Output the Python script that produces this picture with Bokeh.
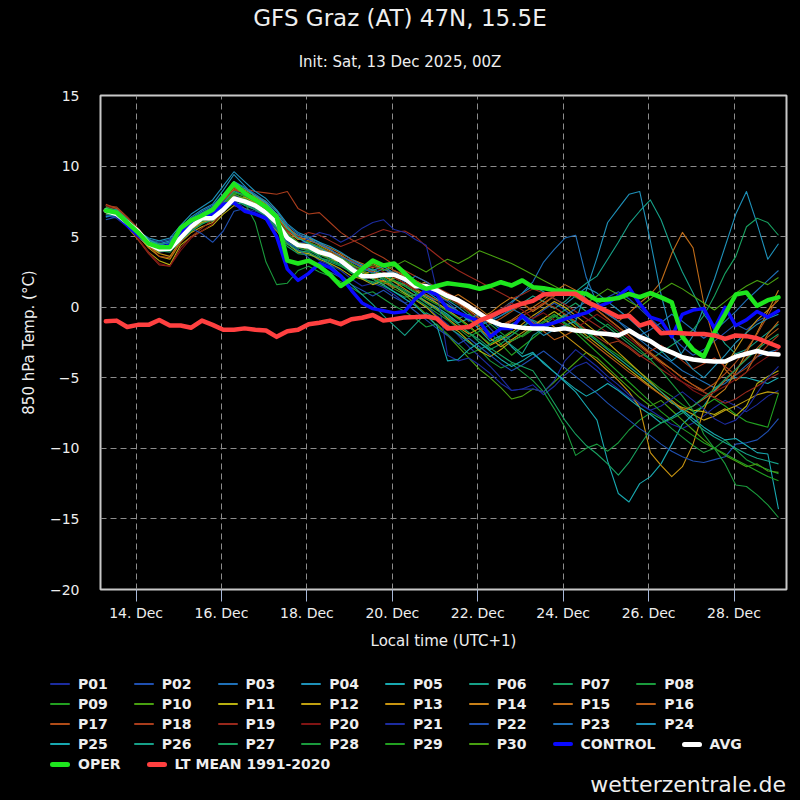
from datetime import datetime, timedelta

from bokeh.embed import file_html
from bokeh.layouts import column
from bokeh.models import ColumnDataSource, DatetimeTickFormatter, Div, FixedTicker, Range1d
from bokeh.plotting import figure
from bokeh.resources import INLINE

# ---------------------------------------------------------------------------
# GFS ensemble, 850 hPa temperature (°C) for Graz, 6-hourly steps (+6 h .. +384 h),
# shown in local time (UTC+1)
# ---------------------------------------------------------------------------
FIRST_STEP = datetime(2025, 12, 13, 7, 0)
STEP_HOURS = 6
N_STEPS = 64
times = [FIRST_STEP + timedelta(hours=STEP_HOURS * i) for i in range(N_STEPS)]

P01 = [6.5, 6.4, 5.8, 5.0, 4.3, 3.9, 4.0, 4.9, 5.6, 6.0, 6.3, 7.0, 7.6, 7.0, 6.8, 6.5,
       5.6, 4.5, 4.0, 3.9, 3.3, 3.0, 2.6, 2.0, 1.5, 1.7, 1.4, 0.9, 0.3, 0.6, 0.1, -0.6,
       -1.2, -2.0, -2.8, -3.5, -4.2, -5.0, -5.9, -5.8, -5.5, -6.2, -5.6, -4.8, -4.2, -3.9, -4.5, -5.2,
       -5.8, -6.4, -6.9, -7.3, -7.8, -8.3, -8.6, -8.2, -7.7, -7.1, -6.6, -7.0, -7.4, -6.9, -6.3, -5.9]
P02 = [6.9, 6.7, 6.0, 5.3, 4.6, 4.2, 4.4, 5.3, 6.0, 6.5, 6.9, 7.6, 8.3, 7.9, 7.3, 6.9,
       6.2, 5.3, 5.0, 4.8, 4.4, 4.1, 3.6, 3.3, 3.0, 2.6, 2.9, 2.4, 2.0, 1.6, 1.1, 0.8,
       0.4, -0.3, -1.0, -0.6, -1.5, -2.3, -2.0, -1.4, -0.8, -0.2, 0.3, -0.2, -0.8, -0.4, 0.2, 0.7,
       1.1, 0.6, -0.1, -0.8, -1.5, -2.1, -2.8, -3.4, -3.0, -2.4, -1.8, -1.2, -1.6, -1.0, -0.6, -0.3]
P03 = [6.4, 6.5, 5.9, 5.2, 4.7, 4.4, 4.6, 5.4, 6.2, 6.7, 7.1, 7.9, 8.8, 8.2, 7.6, 7.0,
       6.0, 4.8, 4.5, 4.6, 4.2, 3.9, 3.1, 2.7, 2.9, 2.5, 1.9, 1.5, 1.0, 0.6, 0.9, 0.3,
       -0.2, -0.8, -0.5, -1.2, -0.9, -0.4, 0.3, 1.0, 1.8, 3.2, 4.1, 4.9, 5.1, 2.1, 0.3, -0.4,
       -1.0, -1.7, -2.3, -2.9, -3.4, -3.9, -4.5, -4.9, -5.3, -5.7, -5.4, -4.8, -4.1, -3.5, -3.2, -3.0]
P04 = [6.7, 6.6, 5.9, 5.3, 4.8, 4.5, 4.7, 5.6, 6.4, 6.9, 7.3, 8.3, 9.4, 8.6, 7.8, 7.4,
       6.6, 5.6, 5.1, 4.9, 4.6, 4.1, 3.5, 3.0, 2.6, 2.7, 2.3, 2.6, 1.9, 1.3, 1.5, 0.9,
       0.5, 0.0, -0.6, -1.1, -0.7, -0.2, 0.4, 1.0, 1.5, 1.1, 0.6, 0.2, 0.8, 1.4, 1.0, 0.4,
       -0.2, -0.8, -1.5, -2.3, -3.1, -3.8, -3.2, -2.0, 0.0, 2.0, 4.3, 6.6, 8.2, 5.9, 3.4, 4.5]
P05 = [7.0, 6.8, 6.1, 5.4, 4.6, 4.1, 4.2, 5.1, 5.8, 6.3, 6.5, 7.2, 8.0, 7.7, 7.3, 6.8,
       6.1, 5.2, 4.6, 4.3, 4.0, 3.8, 3.2, 2.8, 2.4, 2.0, 2.3, 1.8, 1.5, 1.0, 0.4, 0.0,
       -0.5, -1.1, -0.8, -1.6, -2.4, -2.0, -2.8, -3.5, -3.2, -4.0, -4.6, -5.3, -6.0, -7.0, -8.0, -10.9,
       -13.2, -13.8, -12.5, -12.0, -11.1, -9.7, -8.3, -7.6, -7.0, -5.9, -5.2, -5.0, -5.0, -5.2, -5.4, -5.0]
P06 = [7.2, 7.0, 6.2, 5.4, 4.7, 4.3, 4.4, 5.2, 5.9, 6.1, 6.4, 7.0, 7.7, 7.2, 6.9, 6.6,
       5.7, 4.6, 4.2, 4.0, 3.8, 3.5, 3.0, 2.6, 2.5, 2.2, 2.4, 1.9, 1.6, 1.2, 0.8, 0.5,
       0.1, -0.4, -0.9, -1.3, -1.0, -0.6, -0.2, 0.3, 0.8, 0.4, -0.1, 0.4, 1.1, 1.7, 2.2, 3.4,
       4.6, 5.9, 6.8, 7.6, 6.2, 4.2, 2.5, 1.0, -0.5, -1.5, -2.6, -3.3, -3.0, -2.4, -1.8, -1.2]
P07 = [6.9, 6.8, 6.0, 5.4, 4.8, 4.5, 4.5, 5.3, 5.8, 6.0, 6.1, 6.8, 7.4, 7.3, 7.0, 6.4,
       5.5, 4.3, 3.8, 3.7, 3.5, 3.3, 3.0, 2.4, 2.0, 1.8, 1.5, 1.1, 0.7, 0.9, 0.4, -0.1,
       -0.6, -1.2, -1.8, -2.5, -3.0, -2.6, -2.0, -1.4, -0.9, -1.3, -0.7, -0.2, 0.3, -0.3, -0.9, -1.4,
       -2.0, -2.6, -3.2, -3.7, -3.2, -2.7, -2.2, -1.6, -0.6, 0.8, 2.4, 3.6, 5.7, 6.3, 6.0, 5.1]
P08 = [7.1, 6.9, 6.3, 5.5, 4.7, 4.2, 4.1, 4.9, 5.4, 5.9, 6.3, 7.1, 7.9, 7.4, 6.0, 3.2,
       1.6, 1.7, 2.6, 2.9, 2.5, 2.2, 1.8, 1.4, 0.9, 1.1, 0.6, 0.1, -0.3, -0.8, -1.4, -1.2,
       -1.9, -2.6, -3.3, -3.0, -3.8, -4.3, -4.0, -4.6, -5.2, -6.0, -7.2, -8.5, -10.5, -10.0, -9.7, -10.2,
       -9.6, -8.7, -8.0, -7.5, -7.9, -8.6, -9.2, -9.8, -10.3, -10.0, -9.4, -10.1, -10.8, -11.2, -11.5, -11.8]
P09 = [6.6, 6.7, 6.1, 5.3, 4.6, 4.0, 4.1, 4.8, 5.5, 6.0, 6.6, 7.4, 8.1, 8.0, 7.6, 7.1,
       6.3, 5.2, 4.4, 4.5, 4.0, 3.6, 3.4, 2.9, 2.5, 2.7, 2.3, 2.0, 2.4, 1.9, 1.5, 1.0,
       0.6, 0.2, -0.4, -1.1, -1.8, -2.6, -3.4, -2.8, -2.2, -1.6, -1.0, -0.5, -1.1, -1.7, -2.3, -2.9,
       -3.4, -4.0, -4.6, -5.2, -5.8, -6.3, -6.9, -7.4, -7.0, -6.5, -7.0, -7.6, -8.1, -8.3, -8.5, -6.1]
P10 = [6.8, 6.5, 5.8, 5.0, 4.3, 3.9, 4.2, 5.0, 5.7, 6.3, 6.6, 7.3, 8.2, 7.8, 7.5, 7.2,
       6.4, 5.5, 4.9, 4.6, 4.3, 3.9, 3.5, 3.1, 2.6, 2.2, 1.8, 1.3, 0.9, 0.2, -0.5, -1.3,
       -2.0, -2.8, -3.6, -4.4, -5.0, -5.7, -6.5, -6.3, -5.8, -6.0, -5.3, -4.6, -3.9, -3.2, -3.6, -4.3,
       -5.0, -5.7, -6.4, -7.0, -6.6, -7.3, -8.0, -8.7, -9.4, -10.0, -10.5, -10.9, -11.3, -11.1, -11.6, -11.7]
P11 = [6.9, 6.6, 5.7, 4.8, 3.9, 3.3, 3.0, 4.4, 5.0, 5.4, 5.8, 6.6, 7.2, 7.0, 6.6, 6.2,
       5.4, 4.5, 3.9, 3.8, 3.4, 3.1, 2.7, 2.2, 2.0, 1.6, 1.9, 1.5, 1.0, 0.5, 0.0, -0.7,
       -1.3, -1.7, -2.4, -3.1, -3.5, -3.0, -2.4, -2.0, -1.4, -0.8, -0.3, -0.8, -1.4, -2.0, -2.6, -3.2,
       -3.8, -4.4, -5.0, -5.6, -6.2, -6.8, -7.1, -7.3, -7.4, -7.6, -7.2, -7.7, -7.0, -5.4, -4.9, -4.5]
P12 = [7.0, 6.8, 6.0, 5.1, 4.2, 3.6, 3.4, 4.6, 5.3, 5.7, 6.0, 6.8, 7.6, 7.8, 7.4, 6.9,
       6.2, 5.0, 4.3, 4.1, 3.8, 3.4, 3.2, 2.8, 2.5, 2.0, 1.6, 2.1, 1.7, 1.2, 0.7, 0.3,
       -0.2, -0.7, -1.3, -2.0, -2.7, -2.3, -1.8, -1.2, -0.6, -0.1, 0.4, 0.0, -0.6, -1.2, -1.8, -2.5,
       -3.2, -3.9, -4.6, -5.3, -6.0, -6.6, -7.2, -7.6, -8.0, -7.7, -7.3, -7.0, -6.6, -6.2, -6.0, -6.1]
P13 = [6.8, 6.7, 5.9, 5.0, 4.3, 3.8, 3.6, 4.7, 5.5, 6.0, 6.2, 7.0, 7.9, 7.6, 7.2, 6.8,
       6.0, 4.9, 4.3, 4.4, 4.1, 3.8, 3.2, 2.7, 2.3, 2.6, 2.2, 1.8, 1.3, 0.8, 0.4, -0.1,
       -0.8, -1.4, -1.9, -1.5, -2.2, -2.8, -2.3, -1.8, -1.3, -0.8, -1.4, -2.0, -2.6, -3.2, -3.8, -4.5,
       -5.2, -6.0, -7.1, -10.3, -11.2, -12.0, -11.3, -9.7, -7.3, -5.6, -4.2, -3.0, -1.8, -0.9, -0.2, 0.5]
P14 = [6.6, 6.6, 5.9, 5.2, 4.5, 4.1, 4.0, 4.9, 5.6, 6.1, 6.5, 7.4, 8.4, 8.1, 7.8, 7.3,
       6.5, 5.4, 4.8, 4.9, 4.4, 4.0, 3.7, 3.2, 2.9, 3.1, 2.7, 2.4, 1.9, 1.5, 1.8, 1.3,
       0.8, 0.3, -0.2, -0.8, -0.4, 0.2, 0.7, 0.3, -0.3, 0.2, 0.8, 1.3, 0.9, 0.4, -0.2, -0.8,
       -1.4, -2.0, -2.7, -3.3, -3.9, -4.4, -5.0, -5.5, -6.0, -6.4, -5.8, -4.6, -3.2, -1.8, -0.3, 1.2]
P15 = [7.1, 6.9, 6.1, 5.3, 4.5, 4.0, 4.0, 5.0, 5.8, 6.4, 6.8, 7.6, 8.6, 8.3, 7.9, 7.5,
       6.8, 5.7, 5.0, 4.7, 4.5, 4.2, 3.8, 3.4, 3.1, 2.8, 3.0, 2.6, 2.2, 1.7, 1.2, 0.9,
       0.5, 0.9, 0.4, -0.1, -0.7, -1.3, -0.9, -0.4, 0.0, 0.5, 1.1, 1.6, 1.2, 0.6, 0.0, -0.5,
       -1.0, -0.4, 0.3, 0.9, 1.8, 3.8, 5.3, 4.2, 0.3, -2.5, -4.4, -5.2, -4.6, -3.2, -1.9, -1.0]
P16 = [7.2, 7.0, 6.2, 5.5, 4.8, 4.3, 4.2, 5.1, 5.9, 6.5, 6.9, 7.7, 8.5, 8.0, 7.6, 7.0,
       6.1, 5.0, 4.4, 4.2, 3.9, 3.6, 3.3, 2.9, 2.4, 2.1, 1.8, 1.4, 1.7, 1.3, 0.9, 0.5,
       0.1, -0.3, -0.8, -1.4, -1.9, -1.5, -1.0, -0.6, -1.1, -1.7, -2.3, -2.0, -1.6, -2.2, -2.8, -3.4,
       -4.0, -4.6, -5.1, -5.7, -6.2, -6.7, -7.3, -7.0, -6.5, -6.0, -5.2, -4.4, -3.6, -2.9, -2.1, -1.5]
P17 = [7.3, 7.0, 6.3, 5.4, 4.4, 3.6, 3.5, 4.6, 5.5, 6.2, 6.6, 7.5, 8.3, 8.1, 7.7, 7.2,
       6.4, 5.3, 4.6, 4.4, 4.2, 3.9, 3.6, 3.3, 2.8, 2.5, 2.2, 2.6, 2.3, 1.9, 1.5, 1.1,
       0.7, 0.3, -0.1, -0.6, -1.2, -0.8, -0.3, 0.2, -0.2, 0.3, 0.8, 1.2, 0.8, 0.3, -0.2, -0.8,
       -1.4, -2.0, -2.6, -3.2, -3.8, -4.4, -5.0, -5.5, -5.9, -5.4, -4.7, -3.9, -3.0, -1.9, -0.6, 0.8]
P18 = [7.2, 7.1, 6.4, 5.6, 4.7, 4.2, 4.4, 5.3, 6.0, 6.5, 6.8, 7.6, 8.3, 8.4, 8.2, 8.1,
       8.0, 8.2, 7.0, 6.6, 6.7, 6.0, 5.3, 4.8, 4.4, 3.9, 3.5, 3.0, 2.6, 2.2, 1.8, 1.4,
       1.0, 0.6, 0.2, -0.3, -0.8, -1.3, -1.0, -0.6, -0.2, 0.3, 0.0, -0.5, -1.0, -1.6, -2.1, -2.6,
       -2.4, -2.9, -3.5, -3.1, -2.7, -3.2, -3.8, -4.4, -4.0, -3.6, -4.2, -4.8, -4.3, -3.5, -2.7, -2.0]
P19 = [7.0, 6.7, 5.8, 4.8, 3.8, 3.0, 2.9, 4.2, 5.0, 5.6, 6.2, 7.0, 7.8, 7.6, 7.3, 6.9,
       6.2, 5.4, 5.0, 5.3, 5.1, 4.7, 4.3, 4.6, 4.9, 5.2, 5.5, 5.3, 5.4, 5.0, 4.3, 3.7,
       3.1, 2.6, 2.2, 1.8, 1.4, 1.0, 0.6, 0.9, 1.3, 1.0, 0.6, 0.2, -0.3, -0.8, -1.3, -1.8,
       -2.3, -2.8, -3.4, -3.9, -4.4, -4.9, -5.3, -5.7, -6.0, -6.4, -6.8, -6.5, -6.0, -5.6, -5.1, -4.7]
P20 = [7.2, 6.9, 5.9, 4.9, 3.9, 3.1, 2.9, 4.0, 4.9, 5.4, 5.9, 6.8, 7.7, 7.5, 7.1, 6.7,
       5.9, 5.0, 4.4, 4.3, 4.0, 3.7, 3.3, 2.9, 2.6, 2.9, 2.5, 2.1, 1.7, 1.2, 1.5, 1.1,
       0.7, 0.2, -0.3, -0.9, -0.5, -0.1, 0.3, -0.2, -0.8, -0.4, -0.9, -1.3, -1.5, -1.0, -0.5, -1.0,
       -1.6, -2.2, -2.8, -3.4, -4.0, -4.7, -5.3, -5.9, -6.3, -6.0, -5.6, -5.1, -4.6, -4.0, -3.5, -3.0]
P21 = [6.5, 6.3, 5.7, 5.1, 4.5, 4.2, 4.5, 5.3, 6.1, 6.6, 6.9, 7.5, 8.0, 7.4, 6.9, 6.4,
       5.6, 4.7, 4.4, 4.9, 5.3, 5.1, 4.6, 5.0, 5.6, 6.0, 6.2, 5.5, 5.3, 4.8, 4.4, 1.2,
       -3.4, -3.8, -3.6, -4.1, -4.7, -5.4, -5.9, -5.8, -5.8, -6.0, -5.2, -3.8, -3.0, -3.6, -4.2, -4.9,
       -5.5, -6.2, -6.8, -7.3, -7.0, -6.5, -6.0, -6.6, -7.2, -7.9, -8.3, -8.0, -7.2, -6.1, -5.0, -4.2]
P22 = [6.2, 6.4, 5.9, 5.3, 4.8, 4.6, 4.8, 5.5, 5.6, 5.2, 4.6, 5.4, 6.8, 7.0, 6.6, 6.2,
       5.5, 4.6, 4.1, 3.5, 2.9, 2.5, 2.1, 1.6, 1.2, 0.8, 1.2, 0.7, 0.3, -0.3, -0.9, -1.5,
       -2.0, -2.6, -2.2, -2.8, -3.4, -4.0, -4.5, -4.1, -3.6, -3.1, -3.7, -4.3, -4.9, -5.5, -6.1, -6.8,
       -7.4, -8.0, -8.6, -9.1, -9.7, -10.2, -10.6, -10.9, -11.0, -10.8, -10.6, -9.7, -9.6, -9.4, -8.8, -7.9]
P23 = [6.9, 6.8, 6.1, 5.4, 4.7, 4.4, 4.6, 5.5, 6.3, 6.8, 7.2, 8.0, 8.9, 8.5, 8.0, 7.5,
       6.8, 5.8, 5.2, 4.8, 4.5, 4.1, 3.6, 3.2, 2.8, 2.4, 2.7, 2.3, 1.8, 2.2, 1.8, 1.3,
       0.8, 0.4, 0.0, -0.5, -1.0, -0.6, -0.1, -0.5, -1.0, -1.5, -1.1, -0.6, -0.1, 0.4, 0.0, -0.5,
       -1.0, -1.5, -2.0, -1.6, -1.1, -0.5, -1.0, -1.6, -2.2, -1.7, -1.0, -0.3, 0.5, 1.2, 1.9, 2.6]
P24 = [6.4, 6.6, 6.0, 5.4, 4.9, 4.7, 4.9, 5.8, 6.6, 7.1, 7.6, 8.6, 9.6, 8.9, 8.2, 7.7,
       6.9, 5.9, 5.3, 5.0, 4.6, 4.3, 3.9, 3.4, 3.0, 2.6, 2.9, 2.4, 2.0, 1.5, 1.1, 0.6,
       0.2, -0.3, -0.9, -0.4, -1.0, -1.6, -1.2, -0.8, -1.4, -2.0, -1.6, -1.3, -1.0, 1.2, 3.5, 6.0,
       7.0, 8.0, 8.2, 4.7, 0.9, -2.0, -3.5, -4.4, -5.0, -4.2, -3.4, -2.5, -1.8, -1.2, -0.8, -0.5]
P25 = [6.8, 6.9, 6.2, 5.4, 4.8, 4.4, 4.3, 5.2, 6.0, 6.6, 7.0, 7.9, 8.9, 8.4, 7.9, 7.4,
       6.6, 5.6, 4.9, 4.5, 4.2, 3.8, 3.3, 2.9, 2.4, 2.0, 1.6, 1.1, 0.6, 0.1, -0.6, -1.3,
       -3.8, -3.7, -3.0, -2.5, -3.1, -3.7, -4.2, -3.8, -3.3, -3.9, -4.6, -5.2, -5.8, -6.3, -5.9, -5.4,
       -5.9, -6.5, -7.1, -7.6, -8.2, -7.8, -7.3, -7.9, -8.5, -9.0, -9.4, -9.3, -9.8, -10.3, -10.4, -14.3]
P26 = [7.0, 6.9, 6.2, 5.5, 4.7, 4.2, 4.3, 5.1, 5.8, 6.3, 6.6, 7.4, 8.2, 7.9, 7.5, 7.0,
       6.2, 5.1, 4.4, 4.1, 3.6, 3.0, 2.3, 1.6, 0.9, 0.2, -0.6, -1.3, -2.0, -1.2, -0.4, -0.8,
       -1.4, -1.9, -2.5, -3.0, -2.6, -2.1, -2.7, -3.3, -2.0, -1.5, -1.0, -0.6, -1.2, -1.8, -2.4, -3.0,
       -3.6, -4.2, -4.8, -5.4, -6.0, -6.7, -7.4, -8.1, -8.7, -9.2, -9.6, -10.0, -10.4, -10.7, -10.9, -11.1]
P27 = [6.6, 6.5, 5.8, 5.1, 4.4, 4.0, 3.9, 4.7, 5.4, 5.9, 6.2, 6.9, 7.7, 7.3, 6.9, 6.5,
       5.6, 4.5, 4.0, 3.9, 3.5, 3.2, 2.9, 2.5, 2.1, 1.7, 2.1, 1.6, 1.2, 0.8, 0.3, -0.2,
       -0.7, -1.2, -1.8, -2.3, -2.9, -3.4, -3.9, -4.2, -4.5, -5.6, -6.8, -8.0, -9.0, -9.8, -10.4, -11.1,
       -11.9, -11.0, -9.8, -8.7, -8.2, -7.9, -7.5, -7.0, -6.4, -5.8, -5.1, -4.4, -3.7, -3.0, -2.4, -1.9]
P28 = [7.1, 6.8, 6.0, 5.2, 4.5, 4.1, 4.2, 5.0, 5.6, 6.1, 6.4, 7.1, 7.8, 7.4, 7.1, 6.7,
       5.9, 4.8, 4.2, 4.0, 3.7, 3.4, 3.0, 2.5, 2.1, 2.4, 2.0, 1.5, 1.1, 0.6, 0.1, -0.4,
       -0.9, -1.5, -2.1, -1.7, -1.2, -1.8, -2.4, -2.0, -1.5, -1.0, -0.5, -1.1, -1.6, -2.2, -1.7, -1.2,
       -1.8, -2.4, -3.0, -3.7, -4.5, -5.4, -6.3, -7.3, -9.0, -10.0, -11.1, -12.6, -12.7, -13.3, -14.0, -14.9]
P29 = [6.7, 6.8, 6.1, 5.3, 4.6, 4.3, 4.4, 5.2, 5.8, 6.2, 6.5, 7.3, 8.1, 7.9, 7.5, 7.1,
       6.3, 5.2, 4.6, 4.3, 3.9, 3.6, 3.2, 2.8, 2.4, 2.0, 1.7, 1.9, 1.5, 1.1, 0.6, 0.2,
       -0.3, -0.8, -1.4, -2.0, -2.6, -2.2, -1.7, -2.1, -1.6, -1.1, -0.6, -1.2, -1.8, -2.5, -3.2, -3.9,
       -4.6, -5.3, -6.0, -6.7, -7.4, -8.0, -8.6, -9.1, -9.6, -10.0, -10.4, -10.8, -11.2, -11.6, -12.0, -12.3]
P30 = [6.9, 6.7, 6.0, 5.3, 4.6, 4.2, 4.3, 5.1, 5.7, 6.2, 6.5, 7.2, 8.0, 7.7, 7.3, 6.8,
       6.0, 4.9, 4.4, 4.3, 4.0, 3.7, 3.4, 3.0, 2.7, 3.0, 2.6, 2.9, 3.3, 2.9, 2.5, 3.0,
       3.4, 3.1, 3.5, 4.0, 3.7, 3.4, 3.1, 2.7, 2.3, 1.9, 1.5, 1.1, 0.7, 0.3, 0.8, 1.3,
       0.9, 0.4, 0.0, 0.6, 1.2, 1.7, 1.3, 0.8, 0.3, -0.2, 0.4, 1.0, 1.5, 1.9, 1.6, 2.1]

CONTROL = [6.9, 6.6, 5.8, 5.1, 4.5, 4.2, 4.4, 5.2, 5.9, 6.4, 6.6, 7.3, 7.4, 6.8, 6.6, 6.3,
           5.0, 2.7, 1.9, 2.4, 3.1, 2.8, 2.2, 1.2, 0.3, -0.1, -0.25, -0.4, -0.3, 0.6, 1.2, 0.9,
           -0.1, -0.4, -0.7, -1.0, -2.1, -1.5, -1.5, -0.6, -1.3, -1.3, -1.1, -0.85, -0.6, -0.4, 0.0, 0.3,
           0.8, 1.4, 0.25, -0.7, -0.95, -2.1, -0.5, -0.2, -0.1, -1.5, 0.0, -1.3, -0.9, -0.3, -0.7, -0.25]
AVG = [6.85, 6.6, 6.0, 5.4, 4.5, 4.1, 4.15, 4.9, 5.7, 6.3, 6.3, 6.9, 7.7, 7.5, 7.2, 6.7,
       6.0, 4.9, 4.4, 4.3, 3.9, 3.7, 3.3, 2.7, 2.2, 2.2, 2.3, 2.3, 2.0, 1.5, 1.5, 1.2,
       0.8, 0.5, 0.05, -0.45, -0.95, -1.25, -1.35, -1.45, -1.5, -1.5, -1.6, -1.5, -1.65, -1.7, -1.85, -1.9,
       -2.0, -1.65, -2.1, -2.4, -2.9, -3.2, -3.55, -3.7, -3.8, -3.85, -3.85, -3.5, -3.3, -3.1, -3.3, -3.35]
OPER = [6.85, 6.7, 6.0, 5.3, 4.5, 4.25, 4.25, 5.6, 6.15, 6.5, 6.9, 7.8, 8.75, 8.1, 7.6, 7.1,
        6.4, 3.3, 3.1, 3.3, 2.9, 2.3, 1.5, 2.0, 2.7, 3.3, 2.95, 3.1, 2.4, 1.7, 1.3, 1.5,
        1.7, 1.6, 1.5, 1.3, 1.5, 1.77, 1.54, 1.9, 1.42, 1.35, 1.2, 1.15, 1.05, 0.95, 0.5, 0.55,
        0.65, 0.94, 0.72, 1.0, 0.7, 0.35, -2.1, -3.0, -3.5, -1.8, -0.5, 0.9, 1.05, 0.1, 0.5, 0.7]
LT_MEAN = [-1.0, -0.95, -1.4, -1.25, -1.25, -0.9, -1.3, -1.3, -1.45, -0.95, -1.25, -1.6, -1.6, -1.5, -1.6, -1.65,
           -2.1, -1.7, -1.6, -1.2, -1.1, -0.95, -1.2, -0.85, -0.75, -0.55, -0.95, -0.85, -0.72, -0.7, -0.65, -0.8,
           -1.5, -1.45, -1.4, -0.95, -0.65, -0.3, 0.0, 0.25, 0.45, 0.9, 0.95, 0.95, 0.95, 0.4, 0.05, -0.3,
           -0.7, -0.6, -1.3, -1.05, -1.85, -1.8, -1.85, -1.9, -1.9, -2.0, -2.25, -2.0, -2.05, -2.2, -2.5, -2.8]

MEMBER_NAMES = [f"P{k:02d}" for k in range(1, 31)]
MEMBERS = [P01, P02, P03, P04, P05, P06, P07, P08, P09, P10,
           P11, P12, P13, P14, P15, P16, P17, P18, P19, P20,
           P21, P22, P23, P24, P25, P26, P27, P28, P29, P30]

# perturbation colours cycle blue -> teal -> green -> yellow -> orange -> red
MEMBER_PALETTE = ["#1c2ca0", "#1f4fb0", "#1f70b8", "#1e90b8", "#18a8b0",
                  "#16a088", "#18a060", "#1a9a3c", "#22a020", "#48a010",
                  "#b8b010", "#c0a010", "#c89410", "#c88018", "#c06c18",
                  "#b85c18", "#b04c18", "#a83c1c", "#98281c", "#801414"]

SPECIAL = [  # name, values, colour, width
    ("CONTROL", CONTROL, "#0a0aff", 3.5),
    ("AVG", AVG, "#ffffff", 4.5),
    ("OPER", OPER, "#1ee61e", 4.5),
    ("LT MEAN 1991-2020", LT_MEAN, "#ff4040", 4.5),
]

Y_TICKS = [-20, -15, -10, -5, 0, 5, 10, 15]
DAY_TICKS = [datetime(2025, 12, d) for d in range(14, 29, 2)]

BG = "#000000"
TEXT = "#eeeeee"
FONT = "DejaVu Sans"
W = 800
HEAD_H, PLOT_H, FOOT_H = 80, 580, 140


def ms(dt):
    return (dt - datetime(1970, 1, 1)).total_seconds() * 1000.0


# ---- heading -----------------------------------------------------------------------
head = Div(width=W, height=HEAD_H, margin=(0, 0, 0, 0), text=(
    f'<div style="position:relative;width:{W}px;height:{HEAD_H}px;background:{BG};'
    f'color:{TEXT};font-family:\'{FONT}\',sans-serif;">'
    f'<div style="position:absolute;left:0;top:4px;width:{W}px;text-align:center;'
    f'font-size:23px;line-height:28px;">GFS Graz (AT) 47N, 15.5E</div>'
    f'<div style="position:absolute;left:0;top:53px;width:{W}px;text-align:center;'
    f'font-size:15px;line-height:18px;">Init: Sat, 13 Dec 2025, 00Z</div>'
    f'</div>'))

# ---- chart -------------------------------------------------------------------------
p = figure(width=W, height=PLOT_H, x_axis_type="datetime",
           x_range=Range1d(datetime(2025, 12, 13, 4, 0), datetime(2025, 12, 29, 5, 30)),
           y_range=Range1d(-20, 15),
           min_border_left=100, min_border_right=14, min_border_top=15, min_border_bottom=71,
           output_backend="svg", toolbar_location=None)
p.title.visible = False
p.background_fill_color = BG
p.border_fill_color = BG
p.outline_line_color = "#c8c8c8"
p.outline_line_width = 2

x_ticker = FixedTicker(ticks=[ms(d) for d in DAY_TICKS])
p.xaxis.ticker = x_ticker
p.xgrid.ticker = x_ticker
p.xaxis.formatter = DatetimeTickFormatter(days="%d. %b", months="%d. %b", hours="%d. %b")
p.yaxis.ticker = FixedTicker(ticks=Y_TICKS)
p.ygrid.ticker = FixedTicker(ticks=Y_TICKS)
p.yaxis.major_label_overrides = {v: str(v).replace("-", "\u2212") for v in Y_TICKS}

p.grid.grid_line_color = "#8c8c8c"
p.grid.grid_line_dash = "6 4"
p.grid.grid_line_width = 1

for ax in (p.xaxis[0], p.yaxis[0]):
    ax.axis_line_color = None
    ax.minor_tick_line_color = None
    ax.major_label_text_color = TEXT
    ax.major_label_text_font = FONT
    ax.axis_label_text_color = TEXT
    ax.axis_label_text_font = FONT
    ax.axis_label_text_font_style = "normal"
    ax.axis_label_text_font_size = "15px"

p.xaxis.major_label_text_font_size = "14px"
p.xaxis.major_tick_line_color = "#a8b8d8"
p.xaxis.major_tick_in = 0
p.xaxis.major_tick_out = 12
p.xaxis.major_label_standoff = 3
p.xaxis.axis_label = "Local time (UTC+1)"
p.xaxis.axis_label_standoff = 8

p.yaxis.major_label_text_font_size = "14px"
p.yaxis.major_tick_line_color = None
p.yaxis.major_tick_in = 0
p.yaxis.major_tick_out = 0
p.yaxis.major_label_standoff = 21
p.yaxis.axis_label = "850 hPa Temp. (\u00b0C)"
p.yaxis.axis_label_standoff = 9

entries = []  # (name, colour, swatch thickness)
for k, (name, vals) in enumerate(zip(MEMBER_NAMES, MEMBERS)):
    color = MEMBER_PALETTE[k % len(MEMBER_PALETTE)]
    src = ColumnDataSource(dict(t=times, v=vals))
    p.line("t", "v", source=src, line_color=color, line_width=1.1, line_join="round")
    entries.append((name, color, 2))

for name, vals, color, width in SPECIAL:
    src = ColumnDataSource(dict(t=times, v=vals))
    p.line("t", "v", source=src, line_color=color, line_width=width,
           line_join="round", line_cap="round")
    entries.append((name, color, round(width + 0.5)))

# ---- legend and credit: rows of eight entries, each a short line and its name -----
PER_ROW = 8
ROW_CENTRES = [24, 44, 64, 84, 104]
rows_html = []
for row, centre in enumerate(ROW_CENTRES):
    items = []
    for name, color, thick in entries[row * PER_ROW:(row + 1) * PER_ROW]:
        items.append(
            f'<span style="display:inline-flex;align-items:center;margin-right:26px;">'
            f'<span style="display:inline-block;width:20px;height:{thick}px;background:{color};'
            f'border-radius:{thick / 2}px;margin-right:8px;"></span>{name}</span>')
    rows_html.append(
        f'<div style="position:absolute;left:50px;top:{centre - 10}px;height:20px;'
        f'display:flex;align-items:center;white-space:nowrap;">{"".join(items)}</div>')

foot = Div(width=W, height=FOOT_H, margin=(0, 0, 0, 0), text=(
    f'<div style="position:relative;width:{W}px;height:{FOOT_H}px;background:{BG};'
    f'color:{TEXT};font-family:\'{FONT}\',sans-serif;font-size:14px;font-weight:bold;">'
    + "".join(rows_html) +
    f'<div style="position:absolute;right:14px;top:112px;font-size:22px;line-height:26px;'
    f'font-weight:normal;">wetterzentrale.de</div>'
    f'</div>'))

page = column(head, p, foot, spacing=0, styles={"background-color": BG})
open("out.html", "w").write(file_html(page, INLINE))
